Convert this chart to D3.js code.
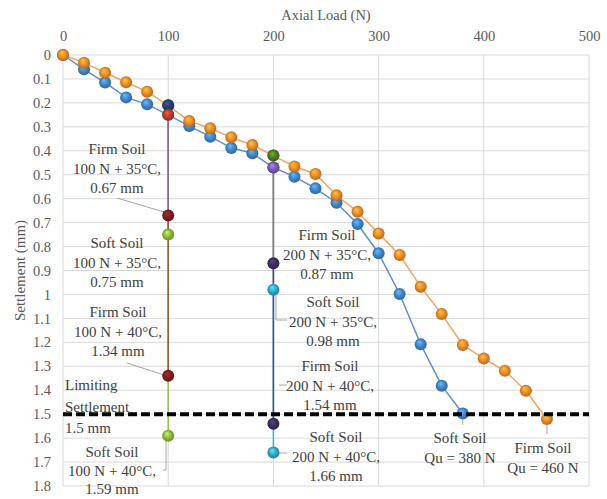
<!DOCTYPE html>
<html><head><meta charset="utf-8">
<script src="https://cdn.jsdelivr.net/npm/d3@7"></script>
<style>
body{margin:0;background:#fff;}
text{font-family:"Liberation Serif","Times New Roman",serif;}
</style></head>
<body><svg id="c" width="607" height="499"></svg>
<script>
// ---- data ----
const firmLoads = [0,20,40,60,80,100,120,140,160,180,200,220,240,260,280,300,320,340,360,380,400,420,440,460];
const firmSettle = [0,0.032,0.074,0.114,0.153,0.21,0.276,0.306,0.344,0.376,0.42,0.466,0.497,0.586,0.655,0.745,0.835,0.968,1.082,1.211,1.268,1.319,1.402,1.52];
const softLoads = [0,20,40,60,80,100,120,140,160,180,200,220,240,260,280,300,320,340,360,380];
const softSettle = [0,0.06,0.115,0.177,0.206,0.25,0.297,0.341,0.388,0.41,0.47,0.508,0.557,0.617,0.706,0.828,0.998,1.208,1.381,1.497];
// temperature drops: [ambient, +35°C, +40°C]
const firm100 = [0.21,0.67,1.34];
const soft100 = [0.25,0.75,1.59];
const firm200 = [0.42,0.87,1.54];
const soft200 = [0.47,0.98,1.66];
const limitSettle = 1.5;
const xTicks = [0,100,200,300,400,500];
const yTicks = [0,0.1,0.2,0.3,0.4,0.5,0.6,0.7,0.8,0.9,1,1.1,1.2,1.3,1.4,1.5,1.6,1.7,1.8];

const svg = d3.select("#c");
const L=63,R=589,T=55,B=486;
const x = d3.scaleLinear().domain([0,500]).range([L,R]);
const y = d3.scaleLinear().domain([0,1.8]).range([T,B]);

// gradients
const defs = svg.append("defs");
function grad(id, c){
  const g = defs.append("radialGradient").attr("id",id).attr("cx","50%").attr("cy","50%").attr("r","55%").attr("fx","38%").attr("fy","30%");
  g.append("stop").attr("offset","0%").attr("stop-color", d3.color(c).brighter(1.1));
  g.append("stop").attr("offset","55%").attr("stop-color", c);
  g.append("stop").attr("offset","100%").attr("stop-color", d3.color(c).darker(0.9));
  return `url(#${id})`;
}
const cols = {orange:"#ED8A25", blue:"#3F84CC", navy:"#223F74", red:"#C0392E", dred:"#7A1F1F",
  green:"#8CB83A", olive:"#4C7A26", purple:"#7A5AAE", dpurple:"#3C2D5A", cyan:"#2FA6C8"};
const G = {}; Object.keys(cols).forEach(k=>G[k]=grad("g_"+k, cols[k]));

// grid
const grid = svg.append("g");
grid.selectAll("line.h").data(yTicks).join("line")
  .attr("x1",L).attr("x2",R).attr("y1",d=>y(d)).attr("y2",d=>y(d))
  .attr("stroke","#d9d9d9").attr("stroke-width",1);
grid.selectAll("line.v").data(xTicks).join("line")
  .attr("x1",d=>x(d)).attr("x2",d=>x(d)).attr("y1",T).attr("y2",B)
  .attr("stroke","#d9d9d9").attr("stroke-width",1);

// axes
const xa = svg.append("g").attr("transform",`translate(0,${T-8})`)
  .call(d3.axisTop(x).tickValues(xTicks).tickSize(0).tickPadding(6).tickFormat(d3.format("d")));
xa.select(".domain").remove();
xa.selectAll("text").attr("font-size",14.5).attr("fill","#595959").attr("font-family","Liberation Serif");
const ya = svg.append("g").attr("transform",`translate(${L-12},0)`)
  .call(d3.axisLeft(y).tickValues(yTicks).tickSize(0).tickPadding(0).tickFormat(d=>String(+d.toFixed(1))));
ya.select(".domain").remove();
ya.selectAll("text").attr("font-size",14.5).attr("fill","#595959").attr("font-family","Liberation Serif");

svg.append("text").attr("x",(L+R)/2).attr("y",20).attr("text-anchor","middle")
  .attr("font-size",14.5).attr("fill","#595959").text("Axial Load (N)");
svg.append("text").attr("transform",`translate(25,${(T+B)/2}) rotate(-90)`).attr("text-anchor","middle")
  .attr("font-size",15).attr("fill","#595959").text("Settlement (mm)");

// main curves
const line = d3.line().x(d=>x(d[0])).y(d=>y(d[1]));
const firmPts = firmLoads.map((l,i)=>[l,firmSettle[i]]);
const softPts = softLoads.map((l,i)=>[l,softSettle[i]]);
svg.append("path").attr("d",line(firmPts)).attr("fill","none").attr("stroke","#F4A460").attr("stroke-width",1.5);
svg.append("path").attr("d",line(softPts)).attr("fill","none").attr("stroke","#5B8FD0").attr("stroke-width",1.5);
const R0=6;
svg.append("g").selectAll("circle").data(softPts).join("circle")
  .attr("cx",d=>x(d[0])).attr("cy",d=>y(d[1])).attr("r",R0).attr("fill",G.blue);
svg.append("g").selectAll("circle").data(firmPts).join("circle")
  .attr("cx",d=>x(d[0])).attr("cy",d=>y(d[1])).attr("r",R0).attr("fill",G.orange);

// vertical temperature series
function seg(load, a, b, color, w){
  svg.append("line").attr("x1",x(load)).attr("x2",x(load)).attr("y1",y(a)).attr("y2",y(b))
    .attr("stroke",color).attr("stroke-width",w||1.5);
}
// soft lines under, firm lines over
seg(100, soft100[0], soft100[1], "#C0504D");
seg(100, soft100[1], soft100[2], "#9BBB59");
seg(100, firm100[0], firm100[1], "#8A6A94");
seg(100, firm100[1], firm100[2], "#9A5A3E");
seg(200, soft200[0], soft200[1], "#8064A2");
seg(200, soft200[1], soft200[2], "#4BACC6");
seg(200, firm200[0], firm200[1], "#7E8A62");
seg(200, firm200[1], firm200[2], "#4A5270");

// leader lines
const leaders = [
  [[117,198],[164,212]],
  [[127,363],[164,375]],
  [[163,470],[166,470],[166,441]],
  [[276,295],[276,320],[287,320]],
  [[279,385],[287,385]],
  [[279,453],[287,453]],
  [[x(380),419],[x(380),425]],
  [[x(460),425],[x(460),434]]
];
leaders.forEach(p=>svg.append("path").attr("d",d3.line()(p)).attr("fill","none").attr("stroke","#a6a6a6").attr("stroke-width",1));

function dot(load, s, g){
  svg.append("circle").attr("cx",x(load)).attr("cy",y(s)).attr("r",R0).attr("fill",g);
}
dot(100, firm100[0], G.navy);
dot(100, soft100[0], G.red);
dot(100, firm100[1], G.dred);
dot(100, soft100[1], G.green);
dot(100, firm100[2], G.dred);
dot(100, soft100[2], G.green);
dot(200, firm200[0], G.olive);
dot(200, soft200[0], G.purple);
dot(200, firm200[1], G.dpurple);
dot(200, soft200[1], G.cyan);
dot(200, firm200[2], G.dpurple);
dot(200, soft200[2], G.cyan);

// limiting settlement line
svg.append("line").attr("x1",x(0)).attr("x2",x(500)).attr("y1",y(limitSettle)).attr("y2",y(limitSettle))
  .attr("stroke","#000").attr("stroke-width",4).attr("stroke-dasharray","9,4");

// labels
const labels = [
  {x:117,y:149,a:"middle",t:["Firm Soil","100 N + 35°C,","0.67 mm"]},
  {x:117,y:243,a:"middle",t:["Soft Soil","100 N + 35°C,","0.75 mm"]},
  {x:118,y:312,a:"middle",t:["Firm Soil","100 N + 40°C,","1.34 mm"]},
  {x:65,y:385,a:"start",t:["Limiting","Settlement","1.5 mm"],sp:21.5},
  {x:112,y:452,a:"middle",t:["Soft Soil","100 N + 40°C,","1.59 mm"],sp:18.5},
  {x:327,y:235,a:"middle",t:["Firm Soil","200 N + 35°C,","0.87 mm"]},
  {x:333,y:302,a:"middle",t:["Soft Soil","200 N + 35°C,","0.98 mm"]},
  {x:330,y:366,a:"middle",t:["Firm Soil","200 N + 40°C,","1.54 mm"]},
  {x:336,y:437,a:"middle",t:["Soft Soil","200 N + 40°C,","1.66 mm"]},
  {x:460,y:438,a:"middle",t:["Soft Soil","Qu = 380 N"]},
  {x:543,y:448,a:"middle",t:["Firm Soil","Qu = 460 N"]}
];
labels.forEach(l=>{
  const sp = l.sp||19.3;
  const tx = svg.append("text").attr("text-anchor",l.a).attr("font-size",15).attr("fill","#404040");
  l.t.forEach((s,i)=>tx.append("tspan").attr("x",l.x).attr("y",l.y+i*sp).attr("dy","0.35em").text(s));
});
</script></body></html>
